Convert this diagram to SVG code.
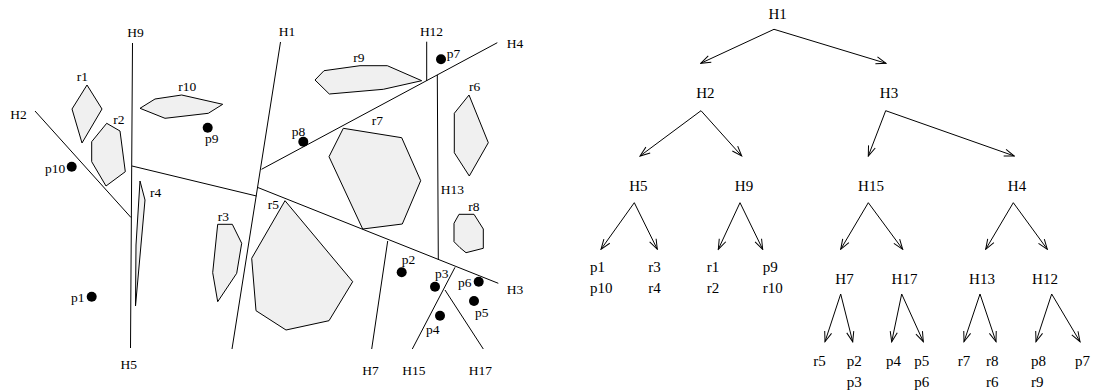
<svg xmlns="http://www.w3.org/2000/svg" width="1096" height="391" viewBox="0 0 1096 391">
<style>
.ln{stroke:#000;stroke-width:1;fill:none}
.rg{stroke:#000;stroke-width:1;fill:#f0f0f0;stroke-linejoin:miter}
.pt{fill:#000}
.t{font-family:"Liberation Serif","Times New Roman",serif;font-size:13.5px;fill:#000}
.tt{font-family:"Liberation Serif","Times New Roman",serif;font-size:15px;fill:#000}
.m{text-anchor:middle}
.ar{stroke:#000;stroke-width:1;fill:none;marker-end:url(#arr)}
</style>
<defs>
<marker id="arr" markerUnits="userSpaceOnUse" viewBox="-11 -5 12 10" refX="0" refY="0" markerWidth="12" markerHeight="10" orient="auto">
<path d="M-10,-3.6 L0,0 L-10,3.6" fill="none" stroke="#000" stroke-width="1"/>
</marker>
</defs>
<rect width="1096" height="391" fill="#fff"/>

<g id="partition">
<g id="lines">
<line class="ln" x1="132.5" y1="43" x2="130.5" y2="348"/>
<line class="ln" x1="35" y1="111" x2="131" y2="217.5"/>
<line class="ln" x1="280.5" y1="42" x2="232" y2="349"/>
<line class="ln" x1="132" y1="166" x2="256.5" y2="196"/>
<line class="ln" x1="261.5" y1="169.3" x2="497.3" y2="42.7"/>
<line class="ln" x1="257.3" y1="187.3" x2="498.3" y2="283.3"/>
<line class="ln" x1="426.7" y1="41.7" x2="426.7" y2="81"/>
<line class="ln" x1="437.3" y1="75" x2="438.3" y2="259.3"/>
<line class="ln" x1="387.7" y1="241" x2="371.7" y2="349"/>
<line class="ln" x1="455" y1="267.3" x2="412.3" y2="349"/>
<line class="ln" x1="445" y1="290" x2="483.3" y2="349"/>
</g>
<g id="regions">
<polygon class="rg" points="87,85 102,109 82,143 72,109"/>
<polygon class="rg" points="106.7,123.3 120,131 125.3,171.7 106,186 91.7,161.7 91.7,141.7"/>
<polygon class="rg" points="140,108.3 155,99 181.7,95 222.7,104.3 208.3,113.3 165,118.3"/>
<polygon class="rg" points="140,181 145,200 135.5,306 136,245"/>
<polygon class="rg" points="217.7,224.3 232.3,224.3 241.7,243.3 236.7,273.3 217.7,301.7 212.7,272.7"/>
<polygon class="rg" points="285,200.7 352.7,281.7 329,320.7 286,330 256,310.7 251.7,258.3"/>
<polygon class="rg" points="343.3,128.3 401.7,137.7 420.7,180.7 402.3,224 362.7,229 329,156.7"/>
<polygon class="rg" points="315,80 324,70.7 360,65.7 387.3,65.7 421.7,80.7 383.3,89.3 329.3,94"/>
<polygon class="rg" points="469,95 488.3,142.7 469.3,176 454.3,152.7 454.3,113.3"/>
<polygon class="rg" points="459,214.3 474,214.3 483.3,229 483.3,248.3 466,252.7 460,247.7 454,241.7 454,223.3"/>
</g>
<g id="points">
<circle class="pt" cx="71.7" cy="166.7" r="5"/>
<circle class="pt" cx="91.7" cy="296.7" r="5"/>
<circle class="pt" cx="207.7" cy="127.7" r="5"/>
<circle class="pt" cx="303.3" cy="141.7" r="5"/>
<circle class="pt" cx="441" cy="59.3" r="5"/>
<circle class="pt" cx="401.7" cy="272.3" r="5"/>
<circle class="pt" cx="435" cy="286.7" r="5"/>
<circle class="pt" cx="478.7" cy="281.7" r="5"/>
<circle class="pt" cx="474" cy="301" r="5"/>
<circle class="pt" cx="440" cy="315.7" r="5"/>
</g>
<g id="labels">
<text class="t m" x="135.5" y="37">H9</text>
<text class="t m" x="128.7" y="369">H5</text>
<text class="t m" x="18.5" y="118.5">H2</text>
<text class="t m" x="287" y="36">H1</text>
<text class="t m" x="431.5" y="36">H12</text>
<text class="t m" x="515" y="47.5">H4</text>
<text class="t m" x="452.3" y="193.5">H13</text>
<text class="t m" x="515" y="293.5">H3</text>
<text class="t m" x="370.5" y="374.5">H7</text>
<text class="t m" x="413.8" y="374.5">H15</text>
<text class="t m" x="480.3" y="374.5">H17</text>
<text class="t" x="45" y="173">p10</text>
<text class="t" x="71" y="301.5">p1</text>
<text class="t" x="205" y="143">p9</text>
<text class="t" x="291.7" y="136">p8</text>
<text class="t" x="446.7" y="57.5">p7</text>
<text class="t" x="401.7" y="264">p2</text>
<text class="t" x="435" y="278">p3</text>
<text class="t" x="458" y="286.5">p6</text>
<text class="t" x="475" y="317">p5</text>
<text class="t" x="426" y="334">p4</text>
<text class="t" x="76.7" y="80.5">r1</text>
<text class="t" x="113.3" y="123.5">r2</text>
<text class="t" x="178.3" y="90.5">r10</text>
<text class="t" x="150" y="196.5">r4</text>
<text class="t" x="217.7" y="220.5">r3</text>
<text class="t" x="267.7" y="209">r5</text>
<text class="t" x="371.7" y="125">r7</text>
<text class="t" x="353.3" y="61.5">r9</text>
<text class="t" x="469" y="90.5">r6</text>
<text class="t" x="468.3" y="210.5">r8</text>
</g>
</g>

<g id="tree-connectors">
<line class="ar" x1="774" y1="29.3" x2="700.7" y2="63.3"/>
<line class="ar" x1="774" y1="29.3" x2="886" y2="63.3"/>
<line class="ar" x1="701" y1="110.7" x2="640" y2="156"/>
<line class="ar" x1="701" y1="110.7" x2="741.7" y2="156"/>
<line class="ar" x1="885.7" y1="110.7" x2="868.3" y2="156"/>
<line class="ar" x1="885.7" y1="110.7" x2="1014.3" y2="156"/>
<line class="ar" x1="634.3" y1="202.7" x2="601" y2="249.3"/>
<line class="ar" x1="634.3" y1="202.7" x2="657.3" y2="249.3"/>
<line class="ar" x1="740" y1="202.7" x2="718.3" y2="249.3"/>
<line class="ar" x1="740" y1="202.7" x2="762.7" y2="249.3"/>
<line class="ar" x1="868.3" y1="202.7" x2="840.7" y2="249.3"/>
<line class="ar" x1="868.3" y1="202.7" x2="902.7" y2="249.3"/>
<line class="ar" x1="1013.3" y1="202.7" x2="985.7" y2="249.3"/>
<line class="ar" x1="1013.3" y1="202.7" x2="1047.3" y2="249.3"/>
<line class="ar" x1="840.7" y1="294" x2="825" y2="341.7"/>
<line class="ar" x1="840.7" y1="294" x2="852.7" y2="341.7"/>
<line class="ar" x1="901.7" y1="294" x2="891.7" y2="341.7"/>
<line class="ar" x1="901.7" y1="294" x2="923.3" y2="341.7"/>
<line class="ar" x1="980" y1="294" x2="964" y2="341.7"/>
<line class="ar" x1="980" y1="294" x2="996" y2="341.7"/>
<line class="ar" x1="1051.7" y1="294" x2="1036" y2="341.7"/>
<line class="ar" x1="1051.7" y1="294" x2="1080" y2="341.7"/>
</g>

<g id="tree-H1"><text class="tt m" x="777.7" y="19">H1</text></g>
<g id="tree-H2"><text class="tt m" x="705.3" y="98.3">H2</text></g>
<g id="tree-H3"><text class="tt m" x="889" y="98.3">H3</text></g>
<g id="tree-H5"><text class="tt m" x="638.3" y="191">H5</text></g>
<g id="tree-H9"><text class="tt m" x="744" y="191">H9</text></g>
<g id="tree-H15"><text class="tt m" x="871" y="191">H15</text></g>
<g id="tree-H4"><text class="tt m" x="1017" y="191">H4</text></g>
<g id="tree-H7"><text class="tt m" x="844.5" y="284">H7</text></g>
<g id="tree-H17"><text class="tt m" x="904.5" y="284">H17</text></g>
<g id="tree-H13"><text class="tt m" x="982" y="284">H13</text></g>
<g id="tree-H12"><text class="tt m" x="1045" y="284">H12</text></g>
<g id="leaf-H5-l"><text class="tt" x="590" y="272">p1</text><text class="tt" x="590" y="293.3">p10</text></g>
<g id="leaf-H5-r"><text class="tt" x="648.3" y="272">r3</text><text class="tt" x="648.3" y="293.3">r4</text></g>
<g id="leaf-H9-l"><text class="tt" x="706.7" y="272">r1</text><text class="tt" x="706.7" y="293.3">r2</text></g>
<g id="leaf-H9-r"><text class="tt" x="762.7" y="272">p9</text><text class="tt" x="762.7" y="293.3">r10</text></g>
<g id="leaf-H7-l"><text class="tt" x="813.3" y="366">r5</text></g>
<g id="leaf-H7-r"><text class="tt" x="846.7" y="366">p2</text><text class="tt" x="846.7" y="387">p3</text></g>
<g id="leaf-H17-l"><text class="tt" x="886" y="366">p4</text></g>
<g id="leaf-H17-r"><text class="tt" x="914.3" y="366">p5</text><text class="tt" x="914.3" y="387">p6</text></g>
<g id="leaf-H13-l"><text class="tt" x="957.7" y="366">r7</text></g>
<g id="leaf-H13-r"><text class="tt" x="986" y="366">r8</text><text class="tt" x="986" y="387">r6</text></g>
<g id="leaf-H12-l"><text class="tt" x="1031" y="366">p8</text><text class="tt" x="1031" y="387">r9</text></g>
<g id="leaf-H12-r"><text class="tt" x="1075" y="366">p7</text></g>
</svg>
